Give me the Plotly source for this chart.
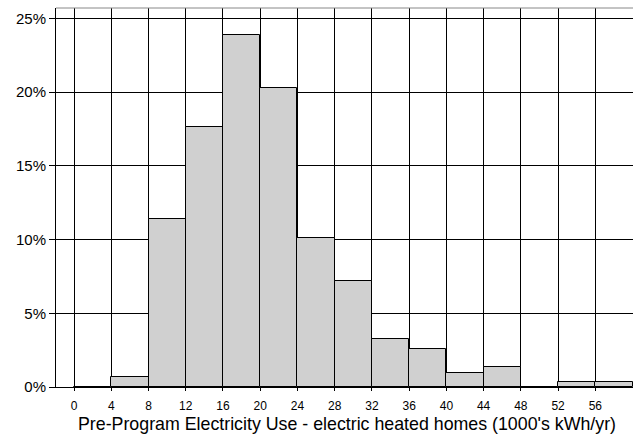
import plotly.graph_objects as go

bin_starts = [0, 4, 8, 12, 16, 20, 24, 28, 32, 36, 40, 44, 48, 52, 56]
percent = [0, 0.65, 11.4, 17.6, 23.86, 20.26, 10.11, 7.18, 3.25, 2.6, 0.97, 1.34, 0, 0.34, 0.34]
bin_width = 4
x_ticks = [0, 4, 8, 12, 16, 20, 24, 28, 32, 36, 40, 44, 48, 52, 56]
y_ticks = [0, 5, 10, 15, 20, 25]
y_labels = ["0%", "5%", "10%", "15%", "20%", "25%"]
x_title = "Pre-Program Electricity Use - electric heated homes (1000's kWh/yr)"

FONT = "Liberation Sans, Arial, sans-serif"

fig = go.Figure()
fig.add_trace(go.Bar(
    x=bin_starts, y=percent, width=bin_width, offset=0,
    marker=dict(color="#d0d0d0", line=dict(color="black", width=1)),
    showlegend=False, hoverinfo="skip",
))

fig.update_layout(
    width=634, height=438,
    margin=dict(l=56, r=1, t=8, b=51),
    plot_bgcolor="white", paper_bgcolor="white",
    bargap=0,
    font=dict(family=FONT, color="black"),
    xaxis=dict(
        range=[-1.94, 60.05], tickvals=x_ticks, ticktext=[str(v) for v in x_ticks],
        showgrid=True, gridcolor="black", gridwidth=1,
        showline=True, linecolor="black", linewidth=1,
        ticks="outside", ticklen=3, tickcolor="black",
        ticklabelstandoff=5,
        tickfont=dict(size=12, family=FONT, color="black"),
        zeroline=False,
    ),
    yaxis=dict(
        range=[0, 25.7], tickvals=y_ticks, ticktext=y_labels,
        showgrid=True, gridcolor="black", gridwidth=1,
        showline=True, linecolor="black", linewidth=1,
        ticks="outside", ticklen=6, tickcolor="black",
        tickfont=dict(size=15, family=FONT, color="black"),
        zeroline=False,
    ),
    shapes=[dict(type="line", xref="paper", yref="paper", x0=0, x1=1, y0=1, y1=1,
                 line=dict(color="#888888", width=1))],
    annotations=[dict(text=x_title, xref="paper", yref="paper", x=0.505, y=0,
                      xanchor="center", yanchor="top", yshift=-25, showarrow=False,
                      font=dict(size=17.8, family=FONT, color="black"))],
)

fig.write_html("out.html", config={"displayModeBar": False},
               post_script="document.body.style.margin='0';")
